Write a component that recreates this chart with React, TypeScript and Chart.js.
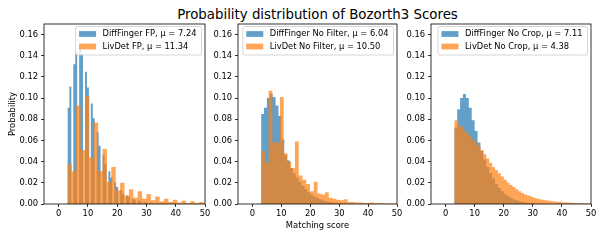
import React, { useEffect, useRef } from "react";
import { Chart, registerables } from "chart.js";

Chart.register(...registerables);

const FIG_TITLE = "Probability distribution of Bozorth3 Scores";
const X_LABEL = "Matching score";
const Y_LABEL = "Probability";
const X_TICKS = [0, 10, 20, 30, 40, 50];
const Y_TICKS = [0, 0.02, 0.04, 0.06, 0.08, 0.1, 0.12, 0.14, 0.16];
const X_MIN = -5;
const X_MAX = 50;
const Y_MIN = 0;
const Y_MAX = 0.17;

const BLUE = "rgba(31,119,180,0.7)";
const ORANGE = "rgba(255,127,14,0.7)";

// Panel 1 : FP
const FP_LABELS = ["DiffFinger FP, μ = 7.24", "LivDet FP, μ = 11.34"];
const FP_DIFF_START = 3;
const FP_DIFF_WIDTH = 2 / 3;
const FP_DIFF = [
  0.091, 0.111, 0, 0.132, 0.143, 0, 0.147, 0.142, 0, 0.125, 0.11, 0, 0.095, 0.081, 0,
  0.068, 0.055, 0, 0.046, 0.038, 0, 0.031, 0.025, 0, 0.02, 0.016, 0, 0.013, 0.01, 0,
  0.008, 0.0065, 0, 0.005, 0.004, 0, 0.003, 0.0025, 0, 0.002, 0.0015, 0, 0.0012, 0.001, 0,
  0.0008, 0.0006, 0, 0.0005, 0.0004,
];
const FP_LIV_START = 3;
const FP_LIV_WIDTH = 1.5;
const FP_LIV = [
  0.038, 0.031, 0.093, 0.051, 0.102, 0.044, 0.077, 0.031, 0.052, 0.021, 0.035, 0.013,
  0.02, 0.008, 0.014, 0.006, 0.012, 0.005, 0.0095, 0.0035, 0.007, 0.0025, 0.005, 0.002,
  0.004, 0.0015, 0.003, 0.001, 0.0025, 0.001, 0.002, 0.0008,
];

// Panel 2 : No Filter
const NF_LABELS = ["DiffFinger No Filter, μ = 6.04", "LivDet No Filter, μ = 10.50"];
const NF_DIFF_START = 3;
const NF_DIFF_WIDTH = 1;
const NF_DIFF = [
  0.085, 0.091, 0.1, 0.104, 0.101, 0.093, 0.083, 0.061, 0.046, 0.041, 0.034, 0.029,
  0.025, 0.021, 0.017, 0.014, 0.011, 0.009, 0.007, 0.006, 0.0045, 0.0035, 0.0025, 0.002,
  0.0015, 0.0012, 0.001, 0.0008, 0.0006, 0.0005,
];
const NF_LIV_START = 3;
const NF_LIV_WIDTH = 1.3;
const NF_LIV = [
  0.05, 0.039, 0.107, 0.058, 0.058, 0.101, 0.048, 0.04, 0.034, 0.059, 0.027, 0.023,
  0.019, 0.012, 0.021, 0.01, 0.009, 0.011, 0.006, 0.005, 0.004, 0.0035, 0.0045, 0.002,
  0.002, 0.0015, 0.0015, 0.001, 0.001, 0.0015, 0.0008, 0.0008, 0.0006, 0.0005, 0.0005,
  0.0004, 0.0004,
];

// Panel 3 : No Crop
const NC_LABELS = ["DiffFinger No Crop, μ = 7.11", "LivDet No Crop, μ = 4.38"];
const NC_DIFF_START = 3;
const NC_DIFF_WIDTH = 1;
const NC_DIFF = [
  0.072, 0.0895, 0.1, 0.104, 0.1, 0.091, 0.079, 0.069, 0.058, 0.05, 0.042, 0.035, 0.029,
  0.024, 0.019, 0.015, 0.012, 0.0095, 0.0075, 0.006, 0.0045, 0.0035, 0.0027, 0.002,
  0.0015, 0.001, 0.0008, 0.0006, 0.0005, 0.0004,
];
const NC_LIV_START = 3;
const NC_LIV_WIDTH = 1;
const NC_LIV = [
  0.079, 0.076, 0.073, 0.07, 0.067, 0.064, 0.061, 0.058, 0.055, 0.051, 0.047, 0.043,
  0.039, 0.035, 0.032, 0.029, 0.026, 0.023, 0.02, 0.018, 0.016, 0.014, 0.012, 0.0105,
  0.009, 0.008, 0.007, 0.006, 0.0052, 0.0046, 0.004, 0.0035, 0.0031, 0.0027, 0.0024,
  0.0021, 0.0018, 0.0016, 0.0014, 0.0012, 0.0011, 0.001, 0.0009, 0.0008, 0.0007, 0.0006,
  0.0005,
];

const FONT = "DejaVu Sans";
const FS = 8.33;

type Series = { label: string; start: number; width: number; heights: number[]; color: string };

function histPoints(s: Series) {
  const pts = s.heights.map((h, i) => ({ x: s.start + i * s.width, y: h }));
  pts.push({ x: s.start + s.heights.length * s.width, y: 0 });
  return pts;
}

const framePlugin = {
  id: "frameAndLegend",
  afterDatasetsDraw(chart: any) {
    const { ctx, chartArea } = chart;
    const { left, top, right, bottom } = chartArea;
    ctx.save();
    ctx.strokeStyle = "#000";
    ctx.lineWidth = 0.8;
    ctx.strokeRect(left, top, right - left, bottom - top);

    // legend
    ctx.font = `${FS}px "${FONT}"`;
    const ds = chart.data.datasets;
    const textW = Math.max(...ds.map((d: any) => ctx.measureText(d.label).width));
    const boxW = 27 + textW + 5;
    const boxH = 28.5;
    const bx = right - 3.5 - boxW;
    const by = top + 2.5;
    const r = 2;
    ctx.beginPath();
    ctx.moveTo(bx + r, by);
    ctx.lineTo(bx + boxW - r, by);
    ctx.arcTo(bx + boxW, by, bx + boxW, by + r, r);
    ctx.lineTo(bx + boxW, by + boxH - r);
    ctx.arcTo(bx + boxW, by + boxH, bx + boxW - r, by + boxH, r);
    ctx.lineTo(bx + r, by + boxH);
    ctx.arcTo(bx, by + boxH, bx, by + boxH - r, r);
    ctx.lineTo(bx, by + r);
    ctx.arcTo(bx, by, bx + r, by, r);
    ctx.closePath();
    ctx.fillStyle = "rgba(255,255,255,0.8)";
    ctx.fill();
    ctx.strokeStyle = "#cccccc";
    ctx.lineWidth = 0.8;
    ctx.stroke();
    ds.forEach((d: any, i: number) => {
      const cy = by + 7.5 + i * 12.5;
      ctx.fillStyle = d.backgroundColor;
      ctx.fillRect(bx + 3.5, cy - 2.9, 17, 5.8);
      ctx.fillStyle = "#000";
      ctx.textBaseline = "middle";
      ctx.textAlign = "left";
      ctx.fillText(d.label, bx + 27, cy);
    });
    ctx.restore();
  },
};

type PanelProps = {
  series: Series[];
  left: number;
  width: number;
  yWidth: number;
  padRight: number;
  showYTitle: boolean;
  showXTitle: boolean;
};

function Panel(p: PanelProps) {
  const ref = useRef<HTMLCanvasElement | null>(null);
  useEffect(() => {
    if (!ref.current) return;
    const chart = new Chart(ref.current, {
      type: "line",
      data: {
        datasets: p.series.map((s, i) => ({
          label: s.label,
          data: histPoints(s),
          stepped: "before" as const,
          fill: "origin",
          backgroundColor: s.color,
          borderWidth: 0,
          pointRadius: 0,
          order: p.series.length - i,
        })),
      },
      options: {
        responsive: false,
        animation: false,
        events: [],
        layout: { padding: { left: 0, right: p.padRight, top: 24, bottom: 0 } },
        plugins: { legend: { display: false }, tooltip: { enabled: false }, title: { display: false } },
        scales: {
          x: {
            type: "linear",
            min: X_MIN,
            max: X_MAX,
            afterBuildTicks: (s: any) => {
              s.ticks = X_TICKS.map((v) => ({ value: v }));
            },
            afterFit: (s: any) => {
              s.height = 36;
            },
            ticks: {
              autoSkip: false,
              maxRotation: 0,
              color: "#000",
              padding: 2,
              font: { family: FONT, size: FS },
              callback: (v: any) => String(v),
            },
            grid: { display: true, drawOnChartArea: false, drawTicks: true, tickLength: 3, color: "#000", lineWidth: 0.8 },
            border: { display: false },
            title: {
              display: p.showXTitle,
              text: X_LABEL,
              color: "#000",
              font: { family: FONT, size: FS },
              padding: { top: 0, bottom: 9.5 },
            },
          },
          y: {
            type: "linear",
            min: Y_MIN,
            max: Y_MAX,
            afterBuildTicks: (s: any) => {
              s.ticks = Y_TICKS.map((v) => ({ value: v }));
            },
            afterFit: (s: any) => {
              s.width = p.yWidth;
            },
            ticks: {
              color: "#000",
              padding: 3,
              font: { family: FONT, size: FS },
              callback: (v: any) => Number(v).toFixed(2),
            },
            grid: { display: true, drawOnChartArea: false, drawTicks: true, tickLength: 3, color: "#000", lineWidth: 0.8 },
            border: { display: false },
            title: {
              display: p.showYTitle,
              text: Y_LABEL,
              color: "#000",
              font: { family: FONT, size: FS },
              padding: { top: 8, bottom: 0 },
            },
          },
        },
      },
      plugins: [framePlugin],
    } as any);
    return () => chart.destroy();
  }, []);
  return (
    <canvas
      ref={ref}
      width={p.width}
      height={240}
      style={{ position: "absolute", left: p.left, top: 0, width: p.width, height: 240 }}
    />
  );
}

export default function App() {
  const p1: Series[] = [
    { label: FP_LABELS[0], start: FP_DIFF_START, width: FP_DIFF_WIDTH, heights: FP_DIFF, color: BLUE },
    { label: FP_LABELS[1], start: FP_LIV_START, width: FP_LIV_WIDTH, heights: FP_LIV, color: ORANGE },
  ];
  const p2: Series[] = [
    { label: NF_LABELS[0], start: NF_DIFF_START, width: NF_DIFF_WIDTH, heights: NF_DIFF, color: BLUE },
    { label: NF_LABELS[1], start: NF_LIV_START, width: NF_LIV_WIDTH, heights: NF_LIV, color: ORANGE },
  ];
  const p3: Series[] = [
    { label: NC_LABELS[0], start: NC_DIFF_START, width: NC_DIFF_WIDTH, heights: NC_DIFF, color: BLUE },
    { label: NC_LABELS[1], start: NC_LIV_START, width: NC_LIV_WIDTH, heights: NC_LIV, color: ORANGE },
  ];
  return (
    <div style={{ position: "absolute", left: 0, top: 0, width: 600, height: 240, background: "#fff", overflow: "hidden" }}>
      <div
        style={{
          position: "absolute",
          left: 317.5,
          top: 7,
          transform: "translateX(-50%)",
          font: `13.33px "${FONT}"`,
          lineHeight: "15px",
          whiteSpace: "nowrap",
          color: "#000",
        }}
      >
        {FIG_TITLE}
      </div>
      <Panel series={p1} left={0} width={214} yWidth={44} padRight={9} showYTitle={true} showXTitle={false} />
      <Panel series={p2} left={205} width={200} yWidth={33} padRight={8} showYTitle={false} showXTitle={true} />
      <Panel series={p3} left={398} width={202} yWidth={33} padRight={9} showYTitle={false} showXTitle={false} />
    </div>
  );
}
